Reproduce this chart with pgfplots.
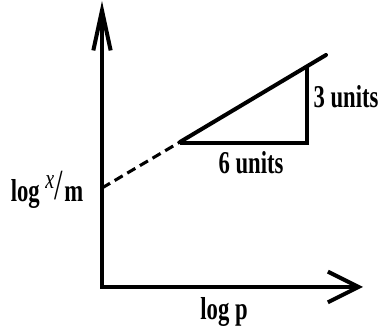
\documentclass[border=0pt]{standalone}
\usepackage{pgfplots}
\pgfplotsset{compat=1.18}
\usepackage{fontspec}
\setmainfont{Liberation Serif}
\usetikzlibrary{arrows.meta}
\newcommand{\lab}[1]{\scalebox{1}[1.4]{\fontsize{17}{20}\selectfont\bfseries #1}}
\begin{document}
\begin{tikzpicture}
\begin{axis}[
  x=0.75pt, y=0.75pt,
  xmin=0, xmax=261, ymin=0, ymax=286,
  axis lines=left,
  xtick=\empty, ytick=\empty,
  clip=false,
  axis line style={line width=3pt, line cap=rect},
  every outer x axis line/.append style={-{Straight Barb[length=23pt,width=23pt,line width=3pt]}},
  every outer y axis line/.append style={-{Straight Barb[length=30pt,width=13pt,line width=3pt]}},
]
\addplot[black, line width=3pt, line cap=round] coordinates {(78,145) (224,232)};
\addplot[black, line width=2.3pt, dash pattern=on 7pt off 4pt] coordinates {(0,99) (78,145)};
\addplot[black, line width=2.4pt] coordinates {(78,144) (205,144) (205,221)};
\node at (axis cs:244,190) {\lab{3 units}};
\node at (axis cs:149,124) {\lab{6 units}};
\node at (axis cs:-55,97) {\lab{log \raisebox{0.42em}{\fontsize{15}{16}\selectfont\mdseries\itshape x}\kern0.02em\raisebox{0.08em}{\fontsize{23}{24}\selectfont\mdseries /}\kern0.04em m}};
\node at (axis cs:122,-25) {\lab{log p}};
\coordinate (bl) at (axis cs:-102,-48);
\coordinate (tr) at (axis cs:280,287);
\end{axis}
\pgfresetboundingbox
\path (bl) rectangle (tr);
\end{tikzpicture}
\end{document}
